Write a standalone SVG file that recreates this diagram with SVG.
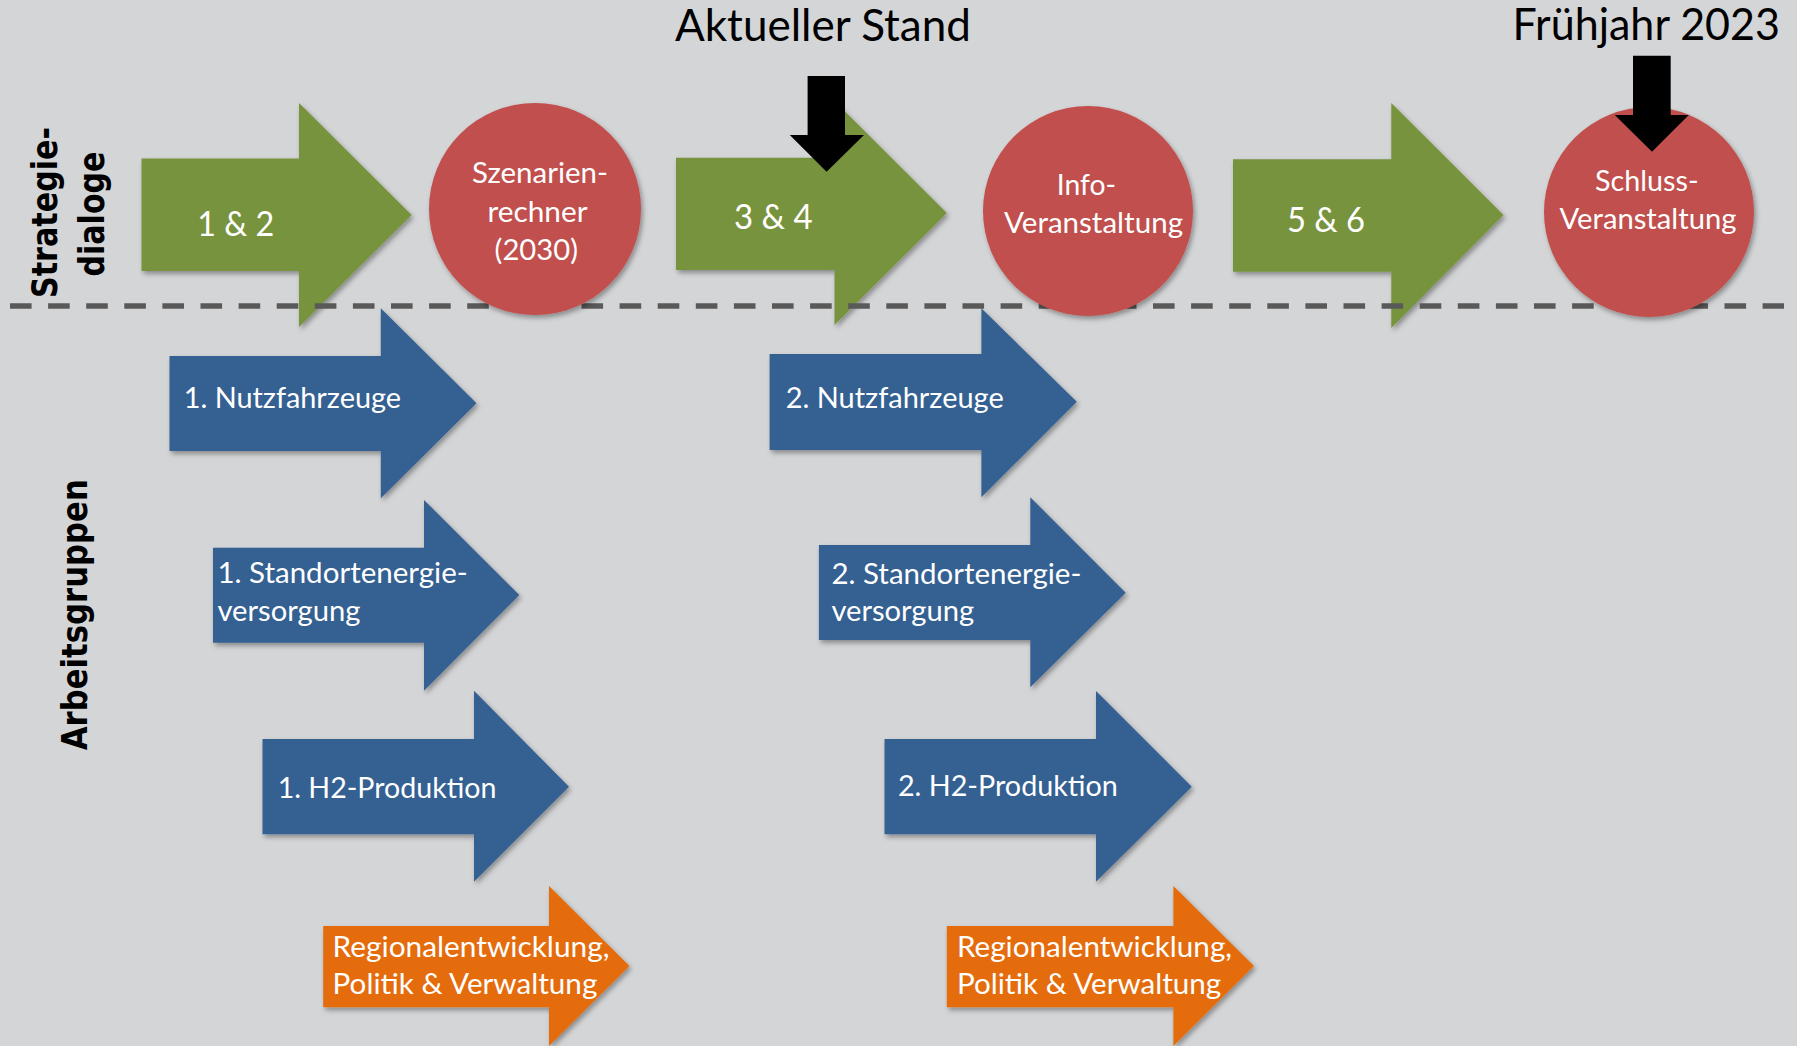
<svg xmlns="http://www.w3.org/2000/svg" width="1797" height="1046" viewBox="0 0 1797 1046">
<defs>
<filter id="sh" x="-10%" y="-10%" width="130%" height="130%">
<feDropShadow dx="2" dy="3" stdDeviation="2.5" flood-color="#000" flood-opacity="0.35"/>
</filter>
<style>
.green{fill:#77933c;filter:url(#sh)}
.red{fill:#c0504d;filter:url(#sh)}
.blue{fill:#366092;filter:url(#sh)}
.orange{fill:#e46c0a;filter:url(#sh)}
.black{fill:#000}
.t{font-family:Lato,"Open Sans","Liberation Sans",sans-serif;fill:#fff;font-size:29.5px}
.tg{font-family:Lato,"Open Sans","Liberation Sans",sans-serif;fill:#fff;font-size:35px}
.tc{font-family:Lato,"Open Sans","Liberation Sans",sans-serif;fill:#fff;font-size:29.5px;text-anchor:middle}
.th{font-family:Lato,"Open Sans","Liberation Sans",sans-serif;fill:#000;font-size:44px}
.tb{font-family:"DejaVu Sans","Liberation Sans",sans-serif;font-weight:bold;fill:#000;font-size:36px;text-anchor:middle}
.dash{stroke:#595959;stroke-width:5.5;stroke-dasharray:21.6 16.5;fill:none}
</style>
</defs>
<rect x="0" y="0" width="1797" height="1046" fill="#d4d5d7"/>

<g id="side-labels">
<text class="tb" transform="translate(57,212.5) rotate(-90)" textLength="171" lengthAdjust="spacingAndGlyphs">Strategie-</text>
<text class="tb" transform="translate(104,214) rotate(-90)" textLength="125" lengthAdjust="spacingAndGlyphs">dialoge</text>
<text class="tb" transform="translate(87,614.7) rotate(-90)" textLength="271" lengthAdjust="spacingAndGlyphs">Arbeitsgruppen</text>
</g>

<g id="sd-1-2">
<polygon class="green" points="141.5,158.5 299,158.5 299,103 411.6,215 299,327 299,271 141.5,271"/>
<text class="tg" x="197.3" y="235.7" textLength="77" lengthAdjust="spacingAndGlyphs">1 &amp; 2</text>
</g>
<g id="sd-3-4">
<polygon class="green" points="676,157.7 834.5,157.7 834.5,101 946.8,213 834.5,325 834.5,270 676,270"/>
<text class="tg" x="734" y="229" textLength="78.7" lengthAdjust="spacingAndGlyphs">3 &amp; 4</text>
</g>
<g id="sd-5-6">
<polygon class="green" points="1233,159.3 1391.3,159.3 1391.3,103 1503.5,215 1391.3,328 1391.3,271.7 1233,271.7"/>
<text class="tg" x="1287" y="232" textLength="78" lengthAdjust="spacingAndGlyphs">5 &amp; 6</text>
</g>

<g id="divider">
<line class="dash" x1="10" y1="306" x2="1784" y2="306"/>
</g>

<g id="szenarienrechner">
<circle class="red" cx="535" cy="209" r="106"/>
<text class="tc" x="540" y="183.3" textLength="136" lengthAdjust="spacingAndGlyphs">Szenarien-</text>
<text class="tc" x="537.5" y="221.7" textLength="100" lengthAdjust="spacingAndGlyphs">rechner</text>
<text class="tc" x="536.3" y="260" textLength="83.4" lengthAdjust="spacingAndGlyphs">(2030)</text>
</g>
<g id="info-veranstaltung">
<circle class="red" cx="1088" cy="211" r="105"/>
<text class="tc" x="1086.4" y="195" textLength="59.3" lengthAdjust="spacingAndGlyphs">Info-</text>
<text class="tc" x="1093.5" y="233.3" textLength="179" lengthAdjust="spacingAndGlyphs">Veranstaltung</text>
</g>
<g id="schluss-veranstaltung">
<circle class="red" cx="1649" cy="212" r="105"/>
<text class="tc" x="1646.8" y="191" textLength="103.6" lengthAdjust="spacingAndGlyphs">Schluss-</text>
<text class="tc" x="1648" y="229.3" textLength="177" lengthAdjust="spacingAndGlyphs">Veranstaltung</text>
</g>

<g id="ag-nutzfahrzeuge-1">
<polygon class="blue" points="169.5,356 380.8,356 380.8,308.3 476.5,403.3 380.8,498.3 380.8,451 169.5,451"/>
<text class="t" x="183.7" y="407.7" textLength="217.3" lengthAdjust="spacingAndGlyphs">1. Nutzfahrzeuge</text>
</g>
<g id="ag-standort-1">
<polygon class="blue" points="213,547.7 424,547.7 424,500 519.3,595 424,690.7 424,642.7 213,642.7"/>
<text class="t" x="217.4" y="582.7" textLength="250.3" lengthAdjust="spacingAndGlyphs">1. Standortenergie-</text>
<text class="t" x="217.4" y="620.7" textLength="143" lengthAdjust="spacingAndGlyphs">versorgung</text>
</g>
<g id="ag-h2-1">
<polygon class="blue" points="262.5,739 474,739 474,690.7 569,786.7 474,881.7 474,834.3 262.5,834.3"/>
<text class="t" x="277.7" y="798.3" textLength="218.7" lengthAdjust="spacingAndGlyphs">1. H2-Produktion</text>
</g>
<g id="ag-region-1">
<polygon class="orange" points="323.2,926 549,926 549,886 629.5,966 549,1046 549,1007.3 323.2,1007.3"/>
<text class="t" x="332.6" y="956.7" textLength="276.8" lengthAdjust="spacingAndGlyphs">Regionalentwicklung,</text>
<text class="t" x="332.6" y="994" textLength="264.7" lengthAdjust="spacingAndGlyphs">Politik &amp; Verwaltung</text>
</g>

<g id="ag-nutzfahrzeuge-2">
<polygon class="blue" points="769.6,354 981.4,354 981.4,308.3 1076.8,401.7 981.4,497.3 981.4,450 769.6,450"/>
<text class="t" x="785.7" y="407.7" textLength="218" lengthAdjust="spacingAndGlyphs">2. Nutzfahrzeuge</text>
</g>
<g id="ag-standort-2">
<polygon class="blue" points="818.9,545 1030.3,545 1030.3,497.3 1125.7,592.7 1030.3,687.3 1030.3,640 818.9,640"/>
<text class="t" x="831.4" y="584" textLength="250" lengthAdjust="spacingAndGlyphs">2. Standortenergie-</text>
<text class="t" x="831.4" y="620.7" textLength="142.8" lengthAdjust="spacingAndGlyphs">versorgung</text>
</g>
<g id="ag-h2-2">
<polygon class="blue" points="884.5,739 1096,739 1096,691 1191.8,786.7 1096,881.7 1096,834.3 884.5,834.3"/>
<text class="t" x="897.9" y="796" textLength="220" lengthAdjust="spacingAndGlyphs">2. H2-Produktion</text>
</g>
<g id="ag-region-2">
<polygon class="orange" points="946.8,926 1173.4,926 1173.4,886 1254,966 1173.4,1046 1173.4,1007.3 946.8,1007.3"/>
<text class="t" x="957" y="956.7" textLength="275" lengthAdjust="spacingAndGlyphs">Regionalentwicklung,</text>
<text class="t" x="957" y="994" textLength="264.2" lengthAdjust="spacingAndGlyphs">Politik &amp; Verwaltung</text>
</g>

<g id="connectors">
<g id="pointer-aktuell">
<polygon class="black" points="807.6,76 845,76 845,135 864,135 826.6,171.7 789.8,135 807.6,135"/>
<text class="th" x="675" y="40.7" textLength="296" lengthAdjust="spacingAndGlyphs">Aktueller Stand</text>
</g>
<g id="pointer-fruehjahr">
<polygon class="black" points="1633,55.7 1670.7,55.7 1670.7,115 1688.8,115 1652,151.7 1614.8,115 1633,115"/>
<text class="th" x="1512.5" y="40" textLength="267.5" lengthAdjust="spacingAndGlyphs">Frühjahr 2023</text>
</g>
</g>
</svg>
